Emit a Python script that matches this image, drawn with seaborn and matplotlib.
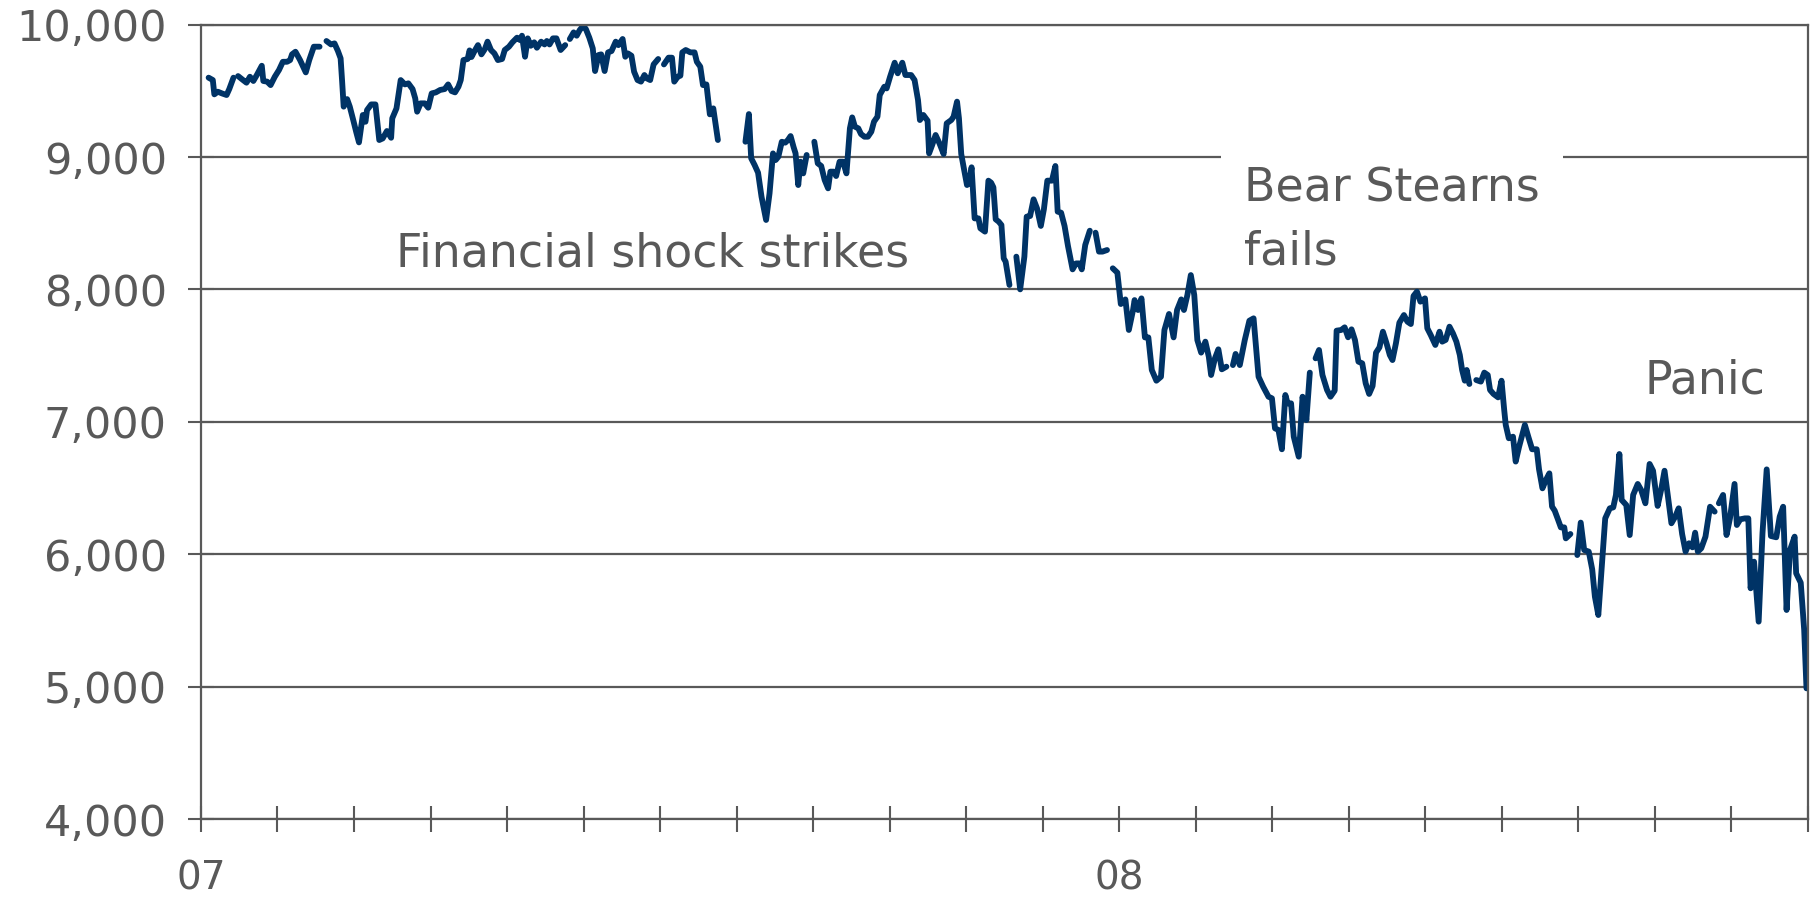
import numpy as np
import pandas as pd
import matplotlib
matplotlib.use("Agg")
import matplotlib.pyplot as plt
import seaborn as sns
from matplotlib.ticker import FuncFormatter

nan = np.nan

# Trading-session index (20 sessions per tick) and index close; NaN marks a break in the series
session = [
    2.0, 3.1, 3.5, 4.4, 5.5, 6.7, 7.4, 8.5, 9.1,
    9.7, 11.0, 11.9, 12.8, 13.7, 14.6, 15.9, 16.3, 17.3, 18.2, 19.3, 20.4, 21.4, 22.5, 23.3, 23.8,
    24.7, 25.9, 27.4, 28.3, 29.5, 31.0, 31.9,
    32.8, 34.0, 34.9, 35.8, 36.5, 36.9, 37.3, 38.2, 38.9, 39.8, 40.6, 41.3, 42.3, 43.0, 43.4, 44.5,
    45.6, 46.6, 47.5, 48.6, 49.7, 50.0, 51.1, 52.2, 53.3, 54.2, 55.3, 56.0, 56.5, 57.4, 58.5, 59.4,
    60.3, 61.4, 62.5, 63.7, 64.6, 65.5, 66.4, 67.3, 67.9, 68.6, 69.7, 70.2, 70.7, 71.5, 72.4, 73.3,
    74.2, 74.9, 75.8, 76.7, 77.6, 78.7, 79.4, 80.5, 81.4, 82.6, 83.4, 83.9, 84.7, 85.4, 86.2, 87.1,
    87.8, 88.9, 89.8, 90.4, 91.1, 92.0, 92.9, 94.0, 95.2, 95.8,
    96.4, 97.4, 98.2, 99.0, 99.9, 100.6, 101.5, 102.4, 103.0, 103.9, 104.6, 105.5, 106.4, 107.3,
    108.4, 109.1, 110.2, 110.9, 111.6, 112.5, 113.2, 114.1, 115.0, 115.9, 116.5, 117.4, 118.3, 119.5, 120.2,
    121.0, 122.2, 123.1, 123.7, 124.6, 125.3, 125.8, 126.7, 127.9, 129.0, 129.6, 130.5, 131.2, 132.1,
    133.0, 133.9, 135.1, 138.0,
    142.3, 143.2, 143.8, 144.7, 145.6, 146.5, 147.7, 148.6, 149.5, 150.2, 150.9, 151.8, 152.7, 153.4,
    154.1, 154.9, 155.4, 156.1, 156.7, 157.4, 158.3, 159.3,
    160.3, 161.2, 162.1, 163.0, 163.9, 164.5, 165.4, 166.0, 166.9, 167.8, 168.7, 169.6, 170.2, 170.9,
    171.8, 172.5, 173.4, 174.3, 175.2, 175.9, 176.8, 177.4, 178.6, 179.2, 180.1, 181.3, 182.1, 183.3,
    184.1, 185.6, 186.5, 187.4, 187.9, 188.8, 189.9, 190.3, 191.1, 192.0, 193.0, 194.1, 194.9, 196.1,
    196.7, 197.6, 198.1, 198.7, 199.3, 200.2, 200.8, 201.4, 202.2, 203.2, 203.7, 204.9, 205.8, 206.5,
    207.1, 207.7, 208.5, 209.2, 209.8, 210.3, 211.3, 212.2,
    213.1, 214.1, 215.2, 215.8, 216.7, 217.6, 218.5, 219.5, 220.3, 221.2, 222.4, 223.3, 223.9, 224.8,
    225.7, 226.6, 227.8, 228.7, 229.6, 230.2, 231.1, 232.3, 233.0,
    233.8, 234.7, 235.6, 236.8, 237.5,
    238.3, 239.5, 240.4, 241.6, 242.5, 243.6, 244.0, 244.9, 245.8, 246.7, 247.6, 248.5, 249.7, 250.9,
    251.8, 253.0, 254.2, 255.1, 256.2, 256.9, 257.8, 258.7, 259.6, 260.4, 261.4, 262.5, 263.4, 264.0,
    265.0, 265.9, 266.8, 268.0, 268.8,
    269.7, 270.4, 271.5, 272.8, 274.0, 275.1, 276.4, 277.6, 279.0, 279.9, 280.7, 281.6, 282.5, 283.4,
    284.0, 284.9, 285.6, 286.9, 287.9, 288.9, 289.8, 290.5,
    291.3, 292.2, 293.1, 294.3, 295.2, 296.3, 296.8, 298.0, 298.9, 299.8, 300.7, 301.6, 302.5, 303.5,
    304.4, 305.3, 306.2, 307.1, 308.0, 308.9, 309.8, 310.7, 311.4, 312.3, 313.2, 314.4, 315.3, 316.2,
    316.9, 317.8, 318.7, 319.9, 320.5, 321.4, 322.6, 323.7, 324.4, 325.3, 326.3, 327.2, 328.1, 329.0,
    329.6, 330.3, 330.8, 331.5, 332.4,
    333.3, 334.5, 335.4, 336.3, 336.9, 337.8, 339.0, 339.9, 340.6, 341.0, 341.8, 342.9, 343.6, 344.5,
    346.0, 346.9, 347.9, 349.1, 349.7, 350.6, 351.5, 352.4, 353.1, 353.8, 354.7, 355.4, 356.3, 356.7,
    357.9, 358.8,
    359.7, 360.6, 361.5, 362.7, 363.6, 364.3, 365.2, 366.1, 367.0, 368.2, 369.1, 369.8, 370.7, 371.3,
    372.5, 373.4, 374.3, 375.5, 376.4, 377.5, 378.6, 379.5, 380.7, 381.6, 382.5, 383.4, 384.3, 385.3,
    386.2, 387.1, 388.0, 388.9, 389.8, 390.5, 391.2, 392.1, 393.2, 394.4, 395.6, 396.1,
    396.7, 397.8, 398.7, 399.6, 400.8, 401.4, 402.3, 403.5, 404.4, 405.0, 405.9, 407.1, 408.1, 409.2,
    410.3, 411.7, 412.6, 413.5, 414.4, 415.3, 416.5, 416.9, 418.1, 419.0, 419.6,
]

close = [
    9600, 9582, 9474, 9494, 9481, 9469, 9514, 9600, nan,
    9612, 9582, 9562, 9607, 9575, 9620, 9690, 9575, 9570, 9544, 9607, 9658, 9720, 9720, 9733, 9776,
    9796, 9733, 9640, 9733, 9834, 9834, nan,
    9877, 9851, 9859, 9801, 9746, 9570, 9381, 9438, 9381, 9280, 9187, 9111, 9318, 9267, 9355, 9398,
    9398, 9129, 9141, 9197, 9146, 9293, 9368, 9582, 9549, 9557, 9514, 9444, 9343, 9406, 9406, 9373,
    9481, 9489, 9507, 9514, 9549, 9499, 9489, 9532, 9582, 9733, 9741, 9806, 9756, 9801, 9846, 9776,
    9816, 9872, 9809, 9783, 9733, 9741, 9809, 9834, 9867, 9902, 9884, 9917, 9758, 9897, 9841, 9867,
    9826, 9872, 9851, 9877, 9851, 9897, 9897, 9809, 9846, nan,
    9892, 9942, 9917, 9960, 9992, 9967, 9902, 9821, 9650, 9771, 9776, 9650, 9791, 9801,
    9872, 9846, 9892, 9758, 9783, 9766, 9645, 9582, 9570, 9620, 9595, 9582, 9700, 9741, nan,
    9700, 9751, 9751, 9570, 9607, 9615, 9791, 9809, 9791, 9791, 9720, 9683, 9544, 9549,
    9323, 9368, 9129, nan,
    9116, 9325, 8991, 8940, 8882, 8701, 8525, 8726, 9028, 8978, 9003, 9116, 9109, 9129,
    9159, 9074, 9028, 8789, 8965, 8877, 9016, nan,
    9116, 8953, 8933, 8827, 8764, 8890, 8890, 8857, 8965, 8965, 8877, 9217, 9300, 9230,
    9217, 9174, 9154, 9154, 9192, 9268, 9305, 9469, 9532, 9519, 9607, 9713, 9633, 9713,
    9620, 9620, 9582, 9431, 9280, 9318, 9275, 9028, 9091, 9167, 9104, 9023, 9255, 9280,
    9305, 9419, 9293, 9023, 8928, 8789, 8802, 8923, 8537, 8537, 8462, 8437, 8822, 8807,
    8772, 8530, 8512, 8487, 8235, 8210, 8034, nan,
    8248, 8001, 8248, 8550, 8555, 8681, 8613, 8480, 8606, 8822, 8822, 8933, 8588, 8580,
    8480, 8328, 8152, 8197, 8197, 8152, 8336, 8444, nan,
    8429, 8286, 8286, 8298, nan,
    8160, 8127, 7890, 7925, 7694, 7845, 7920, 7845, 7933, 7638, 7638, 7392, 7311, 7341,
    7694, 7815, 7638, 7845, 7925, 7845, 7958, 8109, 7958, 7618, 7523, 7606, 7492, 7354,
    7480, 7548, 7397, 7417, nan,
    7429, 7513, 7429, 7618, 7764, 7782, 7341, 7266, 7190, 7178, 6951, 6939, 6793, 7203,
    7140, 7140, 6888, 6737, 7190, 7014, 7372, nan,
    7480, 7543, 7354, 7241, 7190, 7236, 7689, 7694, 7714, 7639, 7699, 7618, 7455, 7442,
    7291, 7211, 7271, 7523, 7563, 7681, 7598, 7505, 7467, 7593, 7749, 7807, 7757, 7739,
    7951, 7984, 7908, 7933, 7707, 7656, 7581, 7681, 7606, 7619, 7719, 7669, 7606, 7505,
    7392, 7311, 7392, 7286, nan,
    7316, 7304, 7372, 7354, 7241, 7211, 7185, 7311, 7090, 6977, 6876, 6888, 6700, 6813,
    6977, 6888, 6793, 6793, 6642, 6498, 6561, 6611, 6360, 6329, 6259, 6203, 6203, 6120,
    6153, nan,
    5994, 6239, 6032, 6020, 5886, 5680, 5541, 5906, 6271, 6347, 6354, 6448, 6757, 6410,
    6372, 6145, 6448, 6531, 6485, 6385, 6682, 6631, 6365, 6485, 6631, 6435, 6234, 6284,
    6347, 6153, 6020, 6083, 6052, 6163, 6020, 6045, 6133, 6359, 6322, nan,
    6385, 6448, 6145, 6271, 6531, 6221, 6264, 6271, 6271, 5743, 5944, 5491, 6158, 6641,
    6138, 6128, 6284, 6359, 5579, 6032, 6133, 5856, 5785, 5428, 4987,
]

month_ticks = list(range(0, 421, 20))
year_labels = {0: "07", 240: "08"}
y_ticks = [4000, 5000, 6000, 7000, 8000, 9000, 10000]

events = ["Financial shock strikes", "Bear Stearns", "fails", "Panic"]

# ---------------------------------------------------------------------------
LINE = "#003366"
INK = "#595959"

sns.set_theme(style="white")
plt.rcParams["font.family"] = ["DejaVu Sans"]

df = pd.DataFrame({"session": session, "close": close})
df["segment"] = df["close"].isna().cumsum()
df = df.dropna()

fig = plt.figure(figsize=(18.12, 9.02), dpi=100)
ax = fig.add_axes([0.1109, 0.0920, 0.8869, 0.8806])

sns.lineplot(data=df, x="session", y="close", units="segment", estimator=None,
             color=LINE, linewidth=4.2, solid_capstyle="round", solid_joinstyle="round",
             ax=ax, zorder=2)

ax.set_xlim(0, 420)
ax.set_ylim(4000, 10000)
ax.set_xticks(month_ticks)
ax.set_xticklabels([year_labels.get(t, "") for t in month_ticks])
ax.set_yticks(y_ticks)
ax.yaxis.set_major_formatter(FuncFormatter(lambda v, _: f"{int(v):,}"))
ax.set_xlabel("")
ax.set_ylabel("")

ax.set_axisbelow(True)
ax.grid(axis="y", color=INK, lw=1.6)
ax.grid(axis="x", visible=False)
for side in ["left", "right", "top", "bottom"]:
    ax.spines[side].set_visible(True)
    ax.spines[side].set_color(INK)
    ax.spines[side].set_linewidth(1.6)

ax.tick_params(axis="both", direction="inout", length=19, width=1.5,
               color=INK, labelcolor=INK,
               bottom=True, left=True, top=False, right=False)
ax.tick_params(axis="y", pad=15, labelsize=31)
ax.tick_params(axis="x", pad=20, labelsize=28)

txt = dict(fontsize=33, color=INK, ha="left", va="baseline", zorder=4)
ax.text(51.0, 8177, events[0], **txt)
ax.text(272.6, 8663, events[1],
        bbox=dict(boxstyle="square,pad=0.5", fc="white", ec="none"), **txt)
ax.text(272.6, 8185, events[2], **txt)
ax.text(377.2, 7216, events[3], **txt)

fig.savefig("out.png", dpi=100, facecolor="white")
